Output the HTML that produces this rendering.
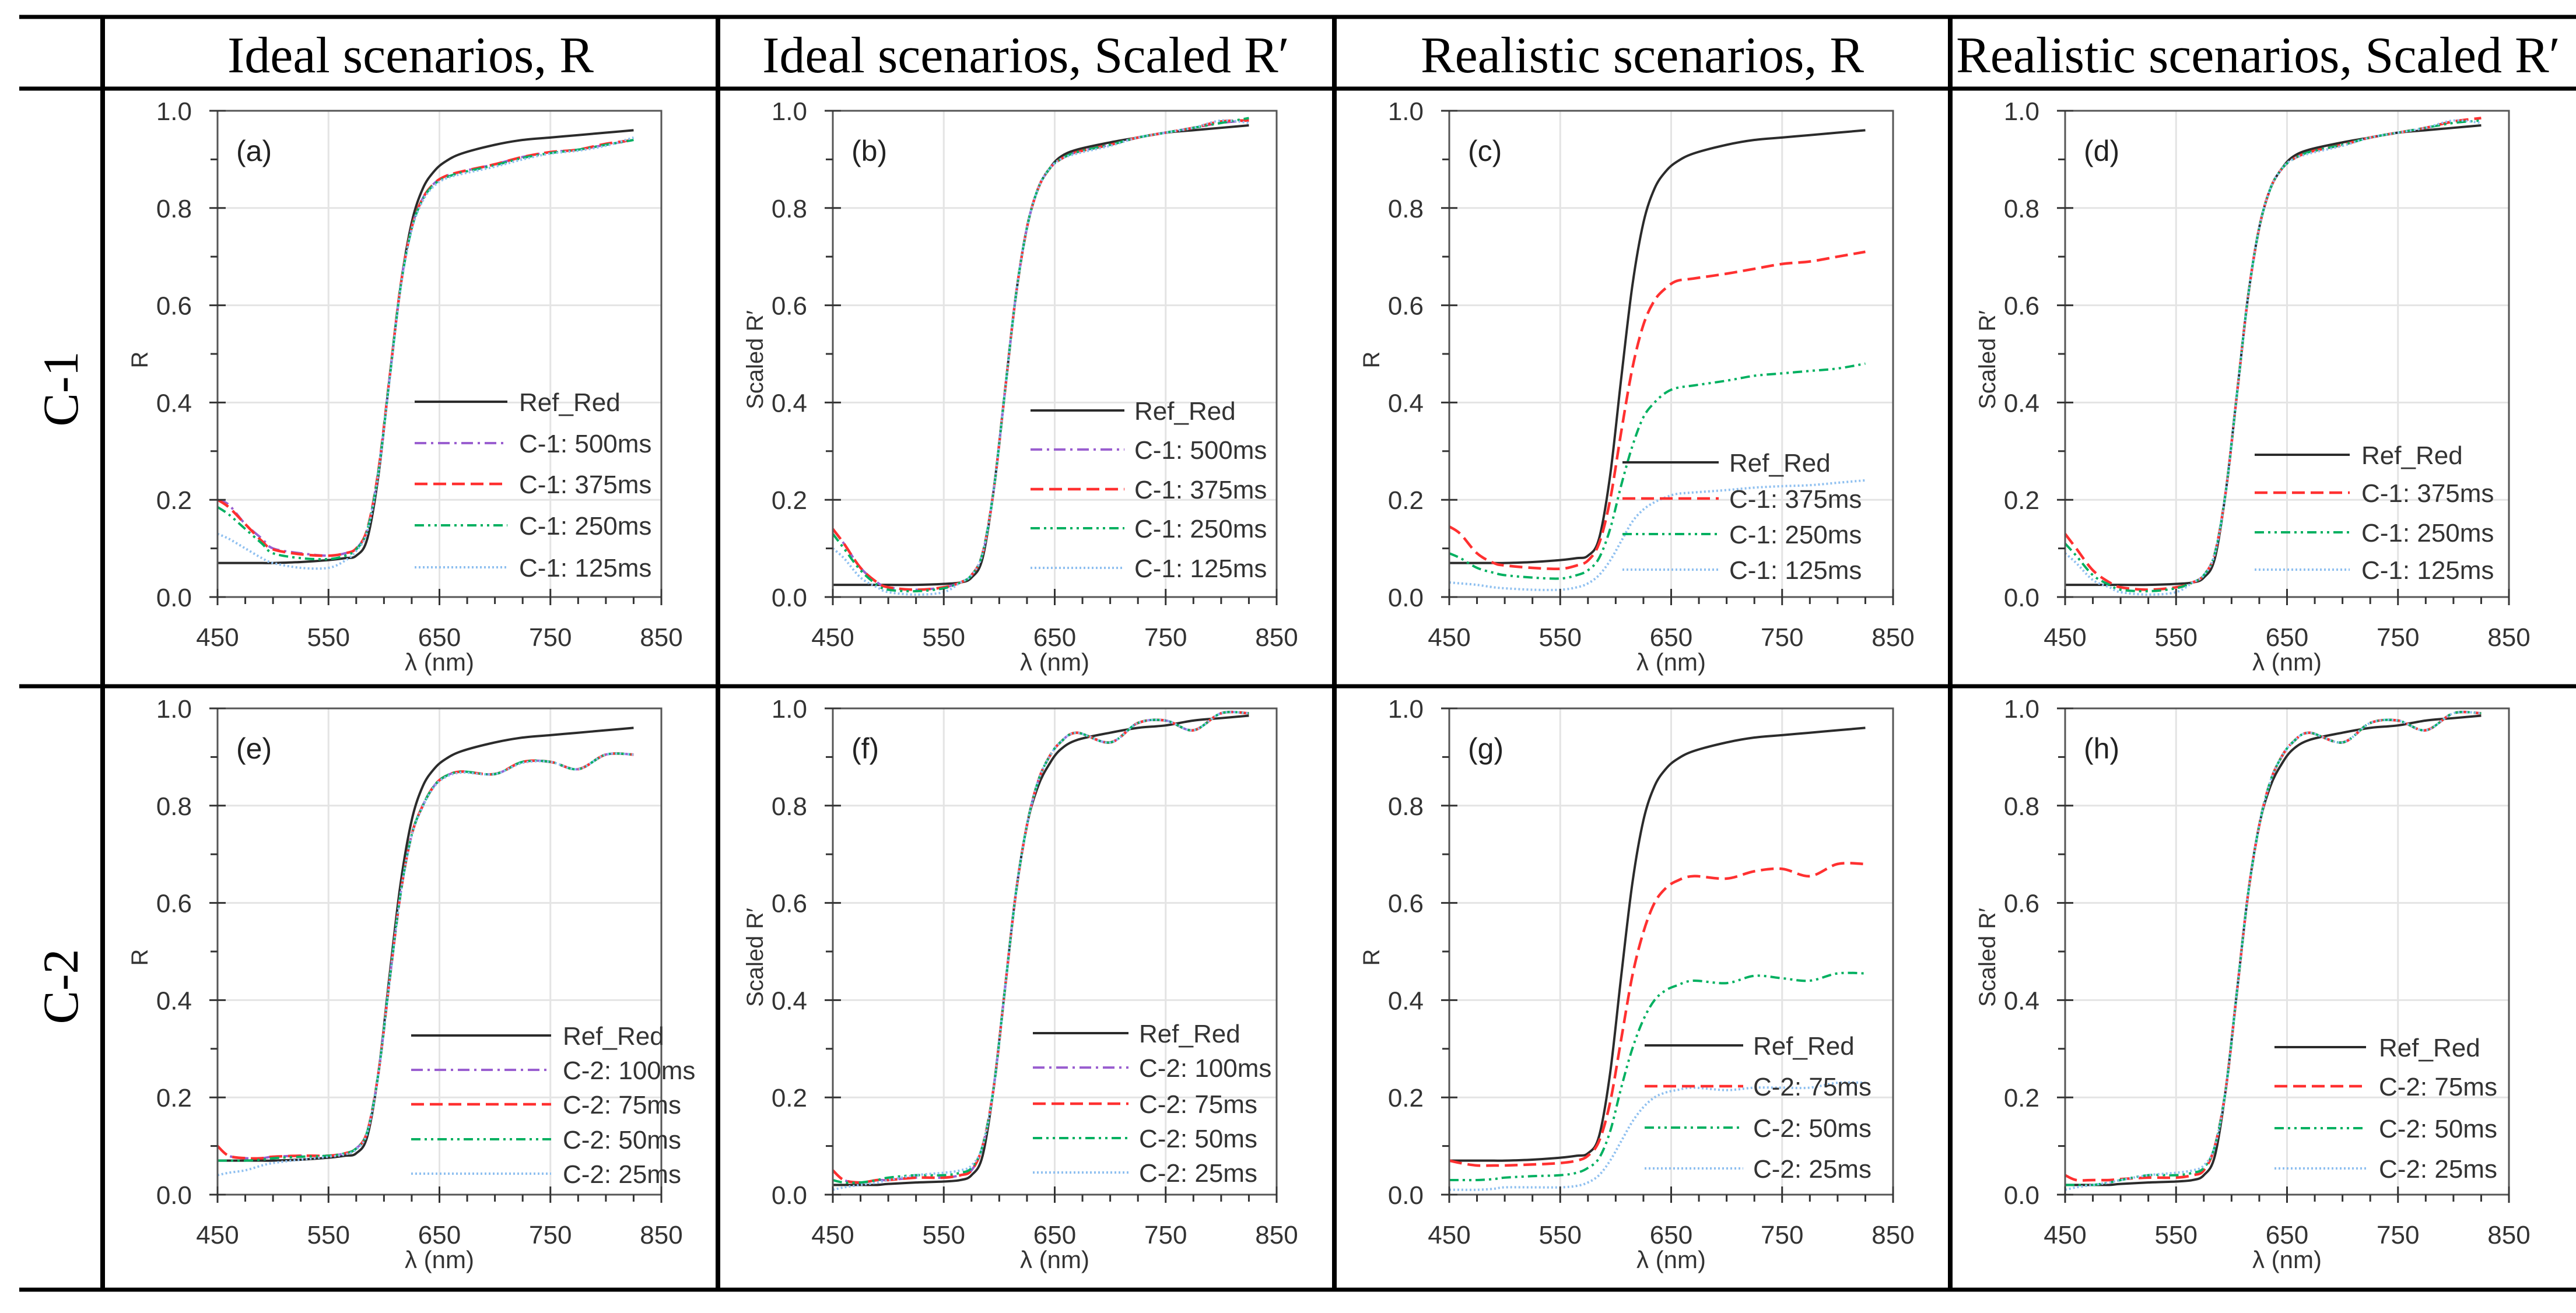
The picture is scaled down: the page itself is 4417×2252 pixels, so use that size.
<!DOCTYPE html>
<html><head><meta charset="utf-8"><style>
html,body{margin:0;padding:0;background:#fff}
svg{display:block}
text{font-family:"Liberation Sans",sans-serif}
.serif{font-family:"Liberation Serif",serif}
</style></head><body>
<svg id="fig" width="4417" height="2252" xmlns="http://www.w3.org/2000/svg"></svg>
<script>
// ---- data (top-level arrays) ----
const WAVELENGTHS=[450,460,475,490,500,525,550,565,575,585,595,605,615,625,635,645,655,670,700,725,750,775,800,825];
const X_TICKS=[450,550,650,750,850];
const Y_TICKS=[0,0.2,0.4,0.6,0.8,1.0];
const Y_TICK_LABELS=["0.0","0.2","0.4","0.6","0.8","1.0"];
const COL_HEADERS=["Ideal scenarios, R","Ideal scenarios, Scaled R\u2032","Realistic scenarios, R","Realistic scenarios, Scaled R\u2032"];
const ROW_HEADERS=["C-1","C-2"];

const REF_R=[0.07,0.07,0.07,0.07,0.07,0.072,0.076,0.08,0.085,0.12,0.25,0.45,0.64,0.77,0.84,0.875,0.895,0.912,0.93,0.94,0.945,0.95,0.955,0.96];
const REF_S=[0.025,0.025,0.025,0.025,0.025,0.025,0.027,0.03,0.04,0.08,0.22,0.42,0.62,0.76,0.84,0.88,0.905,0.92,0.935,0.945,0.955,0.96,0.965,0.97];

const A_500=[0.20,0.19,0.15,0.12,0.10,0.09,0.085,0.09,0.10,0.14,0.26,0.45,0.64,0.76,0.82,0.85,0.865,0.875,0.89,0.905,0.915,0.92,0.93,0.94];
const A_375=[0.20,0.185,0.15,0.115,0.098,0.088,0.085,0.09,0.10,0.14,0.26,0.45,0.64,0.76,0.82,0.85,0.865,0.875,0.89,0.905,0.915,0.92,0.932,0.94];
const A_250=[0.185,0.17,0.14,0.11,0.09,0.08,0.078,0.085,0.098,0.138,0.258,0.448,0.638,0.758,0.818,0.848,0.862,0.873,0.888,0.903,0.913,0.92,0.93,0.94];
const A_125=[0.13,0.12,0.10,0.08,0.07,0.06,0.06,0.075,0.095,0.135,0.255,0.445,0.635,0.755,0.815,0.845,0.86,0.87,0.885,0.9,0.912,0.918,0.928,0.945];

const B_500=[0.14,0.11,0.06,0.03,0.02,0.015,0.02,0.03,0.045,0.09,0.22,0.42,0.62,0.76,0.84,0.88,0.9,0.915,0.93,0.945,0.955,0.965,0.975,0.98];
const B_375=[0.14,0.11,0.06,0.03,0.02,0.015,0.02,0.03,0.045,0.09,0.22,0.42,0.62,0.76,0.84,0.88,0.9,0.915,0.93,0.945,0.955,0.965,0.978,0.98];
const B_250=[0.13,0.10,0.055,0.025,0.015,0.012,0.018,0.03,0.045,0.09,0.22,0.42,0.62,0.76,0.84,0.88,0.9,0.915,0.93,0.945,0.955,0.965,0.975,0.985];
const B_125=[0.10,0.08,0.04,0.02,0.01,0.005,0.01,0.03,0.045,0.09,0.22,0.42,0.62,0.76,0.84,0.88,0.9,0.912,0.928,0.945,0.955,0.965,0.98,0.975];

const C_375=[0.145,0.13,0.09,0.07,0.065,0.06,0.058,0.065,0.075,0.11,0.2,0.34,0.47,0.56,0.61,0.635,0.65,0.655,0.665,0.675,0.685,0.69,0.7,0.71];
const C_250=[0.09,0.08,0.06,0.05,0.045,0.04,0.038,0.045,0.055,0.08,0.14,0.23,0.31,0.37,0.40,0.42,0.43,0.435,0.445,0.455,0.46,0.465,0.47,0.48];
const C_125=[0.03,0.028,0.025,0.02,0.018,0.015,0.015,0.02,0.028,0.045,0.075,0.115,0.155,0.18,0.195,0.205,0.212,0.215,0.22,0.225,0.228,0.23,0.235,0.24];

const D_375=[0.13,0.10,0.055,0.03,0.02,0.015,0.02,0.03,0.045,0.09,0.22,0.42,0.62,0.76,0.84,0.88,0.9,0.915,0.93,0.945,0.955,0.965,0.978,0.985];
const D_250=[0.11,0.085,0.045,0.025,0.015,0.012,0.018,0.03,0.045,0.09,0.22,0.42,0.62,0.76,0.84,0.88,0.9,0.915,0.93,0.945,0.955,0.965,0.975,0.98];
const D_125=[0.09,0.07,0.035,0.02,0.01,0.005,0.01,0.03,0.045,0.09,0.22,0.42,0.62,0.76,0.84,0.88,0.9,0.912,0.928,0.945,0.955,0.965,0.98,0.975];

const E_100=[0.10,0.08,0.075,0.075,0.078,0.08,0.08,0.085,0.095,0.13,0.25,0.44,0.62,0.74,0.80,0.84,0.86,0.87,0.865,0.89,0.89,0.875,0.905,0.905];
const E_75=[0.10,0.08,0.075,0.075,0.078,0.08,0.08,0.085,0.095,0.13,0.25,0.44,0.62,0.74,0.80,0.84,0.86,0.87,0.865,0.89,0.89,0.875,0.905,0.905];
const E_50=[0.07,0.07,0.07,0.072,0.075,0.078,0.08,0.085,0.095,0.13,0.25,0.44,0.62,0.74,0.80,0.84,0.86,0.87,0.865,0.89,0.89,0.875,0.905,0.905];
const E_25=[0.04,0.045,0.05,0.06,0.065,0.072,0.078,0.083,0.093,0.128,0.248,0.438,0.618,0.738,0.798,0.838,0.858,0.868,0.865,0.888,0.89,0.875,0.905,0.905];

const F_REF=[0.02,0.02,0.02,0.02,0.022,0.025,0.027,0.03,0.04,0.08,0.22,0.42,0.62,0.76,0.84,0.885,0.915,0.935,0.95,0.96,0.965,0.975,0.98,0.985];
const F_100=[0.05,0.03,0.025,0.03,0.03,0.035,0.035,0.04,0.05,0.1,0.22,0.42,0.62,0.76,0.85,0.9,0.93,0.95,0.93,0.97,0.975,0.955,0.99,0.99];
const F_75=[0.05,0.03,0.025,0.03,0.03,0.035,0.035,0.04,0.05,0.1,0.22,0.42,0.62,0.76,0.85,0.9,0.93,0.95,0.93,0.97,0.975,0.955,0.99,0.99];
const F_50=[0.03,0.025,0.025,0.03,0.035,0.04,0.04,0.045,0.055,0.1,0.22,0.42,0.62,0.76,0.85,0.9,0.93,0.95,0.93,0.97,0.975,0.955,0.99,0.99];
const F_25=[0.01,0.015,0.02,0.025,0.03,0.04,0.045,0.05,0.06,0.1,0.22,0.42,0.62,0.76,0.85,0.9,0.93,0.95,0.93,0.97,0.975,0.955,0.99,0.99];

const G_75=[0.07,0.065,0.06,0.06,0.06,0.062,0.065,0.07,0.08,0.11,0.19,0.32,0.45,0.54,0.6,0.63,0.645,0.655,0.65,0.665,0.67,0.655,0.68,0.68];
const G_50=[0.03,0.03,0.03,0.032,0.035,0.038,0.04,0.045,0.055,0.075,0.13,0.22,0.3,0.36,0.4,0.42,0.43,0.44,0.435,0.45,0.445,0.44,0.455,0.455];
const G_25=[0.01,0.01,0.01,0.012,0.015,0.015,0.015,0.018,0.025,0.04,0.07,0.11,0.15,0.18,0.2,0.21,0.215,0.22,0.215,0.22,0.22,0.22,0.23,0.23];

const H_75=[0.04,0.03,0.03,0.03,0.032,0.035,0.035,0.04,0.05,0.1,0.22,0.42,0.62,0.76,0.85,0.9,0.93,0.95,0.93,0.97,0.975,0.955,0.99,0.99];
const H_50=[0.02,0.02,0.02,0.025,0.03,0.04,0.04,0.045,0.055,0.1,0.22,0.42,0.62,0.76,0.85,0.9,0.93,0.95,0.93,0.97,0.975,0.955,0.99,0.99];
const H_25=[0.01,0.015,0.02,0.025,0.03,0.04,0.045,0.05,0.06,0.1,0.22,0.42,0.62,0.76,0.85,0.9,0.93,0.95,0.93,0.97,0.975,0.955,0.99,0.99];

// ---- styles ----
const ST={
 ref:{c:"#2b2b2b",d:"",w:4},
 p:{c:"#9a5fd0",d:"20 8 4 8",w:4},
 r:{c:"#ff3030",d:"22 10",w:4.5},
 g:{c:"#00b060",d:"16 7 4 7 4 7",w:4},
 b:{c:"#8fc0f0",d:"3 4",w:4}
};
const PANELS=[
 {id:"a",col:0,row:0,ylab:"R",leg:{l0:338,l1:497,t:517,y:[499,570,640,711,783]},
  s:[["Ref_Red",REF_R,"ref"],["C-1: 500ms",A_500,"p"],["C-1: 375ms",A_375,"r"],["C-1: 250ms",A_250,"g"],["C-1: 125ms",A_125,"b"]]},
 {id:"b",col:1,row:0,ylab:"Scaled R\u2032",leg:{l0:339,l1:500,t:517,y:[514,581,649,716,784]},
  s:[["Ref_Red",REF_S,"ref"],["C-1: 500ms",B_500,"p"],["C-1: 375ms",B_375,"r"],["C-1: 250ms",B_250,"g"],["C-1: 125ms",B_125,"b"]]},
 {id:"c",col:2,row:0,ylab:"R",leg:{l0:297,l1:462,t:480,y:[603,665,726,787]},
  s:[["Ref_Red",REF_R,"ref"],["C-1: 375ms",C_375,"r"],["C-1: 250ms",C_250,"g"],["C-1: 125ms",C_125,"b"]]},
 {id:"d",col:3,row:0,ylab:"Scaled R\u2032",leg:{l0:325,l1:488,t:508,y:[590,655,723,787]},
  s:[["Ref_Red",REF_S,"ref"],["C-1: 375ms",D_375,"r"],["C-1: 250ms",D_250,"g"],["C-1: 125ms",D_125,"b"]]},
 {id:"e",col:0,row:1,ylab:"R",leg:{l0:332,l1:572,t:592,y:[561,620,679,739,798]},
  s:[["Ref_Red",REF_R,"ref"],["C-2: 100ms",E_100,"p"],["C-2: 75ms",E_75,"r"],["C-2: 50ms",E_50,"g"],["C-2: 25ms",E_25,"b"]]},
 {id:"f",col:1,row:1,ylab:"Scaled R\u2032",leg:{l0:343,l1:507,t:525,y:[557,616,678,737,796]},
  s:[["Ref_Red",F_REF,"ref"],["C-2: 100ms",F_100,"p"],["C-2: 75ms",F_75,"r"],["C-2: 50ms",F_50,"g"],["C-2: 25ms",F_25,"b"]]},
 {id:"g",col:2,row:1,ylab:"R",leg:{l0:335,l1:504,t:521,y:[578,648,719,789]},
  s:[["Ref_Red",REF_R,"ref"],["C-2: 75ms",G_75,"r"],["C-2: 50ms",G_50,"g"],["C-2: 25ms",G_25,"b"]]},
 {id:"h",col:3,row:1,ylab:"Scaled R\u2032",leg:{l0:359,l1:516,t:538,y:[581,648,720,789]},
  s:[["Ref_Red",F_REF,"ref"],["C-2: 75ms",H_75,"r"],["C-2: 50ms",H_50,"g"],["C-2: 25ms",H_25,"b"]]}
];

const NS="http://www.w3.org/2000/svg";
const svg=document.getElementById("fig");
function mk(tag,attrs,parent){const e=document.createElementNS(NS,tag);for(const k in attrs)e.setAttribute(k,attrs[k]);(parent||svg).appendChild(e);return e;}

const COLX=[176,1231,2288,3344];
const ROWY=[152,1177];
const PW=761,PH=834;

let e;
e=mk("line",{x1:33,y1:29,x2:4417,y2:29,stroke:"#000","stroke-width":7});


e=mk("line",{x1:33,y1:152,x2:4417,y2:152,stroke:"#000","stroke-width":7});


e=mk("line",{x1:33,y1:1177,x2:4417,y2:1177,stroke:"#000","stroke-width":7});


e=mk("line",{x1:33,y1:2212,x2:4417,y2:2212,stroke:"#000","stroke-width":7});


COLX.forEach((x,i)=>{
  const l=mk("line",{x1:x,y1:29,x2:x,y2:2212,stroke:"#000","stroke-width":8});
  
  
  const t=mk("text",{x:x+528,y:124,"text-anchor":"middle","font-size":88,class:"serif"});
  t.textContent=COL_HEADERS[i];
  
  
});
ROWY.forEach((y,i)=>{
  const t=mk("text",{x:0,y:0,"text-anchor":"middle","font-size":86,class:"serif",transform:`translate(133,${y+515}) rotate(-90)`});
  t.textContent=ROW_HEADERS[i];
  
  
});

function smooth(pts){
  let d=`M${pts[0][0]},${pts[0][1]}`;
  for(let i=0;i<pts.length-1;i++){
    const p0=pts[Math.max(0,i-1)],p1=pts[i],p2=pts[i+1],p3=pts[Math.min(pts.length-1,i+2)];
    const c1=[p1[0]+(p2[0]-p0[0])/6,p1[1]+(p2[1]-p0[1])/6];
    const c2=[p2[0]-(p3[0]-p1[0])/6,p2[1]-(p3[1]-p1[1])/6];
    d+=` C${c1[0]},${c1[1]} ${c2[0]},${c2[1]} ${p2[0]},${p2[1]}`;
  }
  return d;
}

PANELS.forEach(P=>{
  const L=COLX[P.col]+197, T=ROWY[P.row]+38;
  const xs=v=>L+(v-450)/400*PW;
  const ys=v=>T+PH-v*PH;
  const g=mk("g",{});
  
  
  [550,650,750].forEach(v=>{
    const l=mk("line",{x1:xs(v),y1:T,x2:xs(v),y2:T+PH,stroke:"#e4e4e4","stroke-width":3},g);
    
    
  });
  [0.2,0.4,0.6,0.8].forEach(v=>{
    const l=mk("line",{x1:L,y1:ys(v),x2:L+PW,y2:ys(v),stroke:"#e4e4e4","stroke-width":3},g);
    
    
  });
  P.s.forEach(s=>{
    const st=ST[s[2]];
    const pts=WAVELENGTHS.map((w,i)=>[xs(w),ys(s[1][i])]);
    const p=mk("path",{d:smooth(pts),fill:"none",stroke:st.c,"stroke-width":st.w,"stroke-dasharray":st.d,"stroke-linejoin":"round"},g);
    
    
  });
  const fr=mk("rect",{x:L,y:T,width:PW,height:PH,fill:"none",stroke:"#555","stroke-width":3},g);
  
  
  for(let v=450;v<=850;v+=25){
    const major=(v-450)%100===0;
    const tk=mk("line",{x1:xs(v),y1:T+PH-(major?14:0),x2:xs(v),y2:T+PH+(major?14:12),stroke:"#333","stroke-width":3},g);
    
    
  }
  for(let k=0;k<=10;k++){
    const v=k/10,major=k%2===0;
    const tk=mk("line",{x1:L-(major?14:12),y1:ys(v),x2:L+(major?14:0),y2:ys(v),stroke:"#333","stroke-width":3},g);
    
    
  }
  X_TICKS.forEach(v=>{
    const t=mk("text",{x:xs(v),y:T+PH+84,"text-anchor":"middle","font-size":44,fill:"#333"},g);
    t.textContent=String(v);
    
    
  });
  Y_TICKS.forEach((v,i)=>{
    const t=mk("text",{x:L-44,y:ys(v)+16,"text-anchor":"end","font-size":44,fill:"#333"},g);
    t.textContent=Y_TICK_LABELS[i];
    
    
  });
  const xt=mk("text",{x:L+PW/2,y:T+PH+126,"text-anchor":"middle","font-size":42,fill:"#333"},g);
  xt.textContent="\u03bb (nm)";
  
  
  const yt=mk("text",{x:0,y:0,"text-anchor":"middle","font-size":40,fill:"#333",transform:`translate(${L-120},${T+PH/2+10}) rotate(-90)`},g);
  yt.textContent=P.ylab;
  
  
  const pl=mk("text",{x:L+32,y:T+86,"font-size":50,fill:"#222"},g);
  pl.textContent="("+P.id+")";
  
  
  P.s.forEach((s,i)=>{
    const st=ST[s[2]];
    const y=T+P.leg.y[i];
    const ll=mk("line",{x1:L+P.leg.l0,y1:y,x2:L+P.leg.l1,y2:y,stroke:st.c,"stroke-width":st.w,"stroke-dasharray":st.d},g);
    
    
    const lt=mk("text",{x:L+P.leg.t,y:y+16,"font-size":44,fill:"#333"},g);
    lt.textContent=s[0];
    
    
  });
});
</script>
</body></html>
